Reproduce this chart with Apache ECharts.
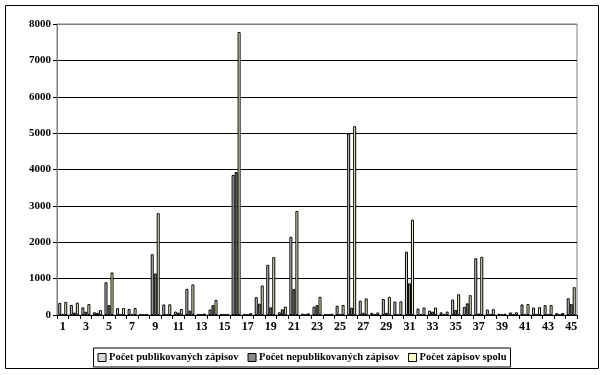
<!DOCTYPE html>
<html><head><meta charset="utf-8">
<script src="https://cdn.jsdelivr.net/npm/echarts@6/dist/echarts.min.js"></script>
<style>html,body{margin:0;padding:0;background:#fff}#c{width:604px;height:375px}</style>
</head><body><div id="c"></div>
<script>
const categories = Array.from({length:45},(_, i)=>String(i+1));
const seriesNames = ['Počet publikovaných zápisov','Počet nepublikovaných zápisov','Počet zápisov spolu'];
const published   = [330,275,210,75,900,190,165,10,1670,290,95,720,30,150,20,3850,30,490,1380,75,2150,35,230,25,255,4990,395,60,440,370,1740,175,120,73,425,220,1560,150,30,70,290,205,270,50,460];
const unpublished = [30,65,90,60,270,2,25,2,1140,5,65,120,10,270,10,3930,20,310,210,155,710,10,270,10,15,200,60,10,60,5,870,30,90,20,140,320,40,10,5,5,10,10,5,5,300];
const total       = [360,340,300,135,1170,192,190,12,2800,295,165,840,40,415,30,7780,50,810,1590,230,2860,45,500,35,275,5190,455,70,500,375,2620,205,205,93,570,545,1600,160,35,75,300,215,275,55,765];
const yTicks = [0,1000,2000,3000,4000,5000,6000,7000,8000];

const font = 'Liberation Serif';
const chart = echarts.init(document.getElementById('c'), null, {renderer:'canvas'});
const colors = ['#d6d6d6','#8a8a8a','#ffffcc'];
const vals = [published, unpublished, total];
chart.setOption({
  animation:false,
  backgroundColor:'#fff',
  graphic:[{type:'rect', shape:{x:5.5,y:5.5,width:593,height:363}, style:{fill:'none',stroke:'#000',lineWidth:1}, silent:true}],
  grid:{left:57,right:27,top:24,bottom:60,show:true,borderColor:'#808080',borderWidth:1,backgroundColor:'transparent'},
  legend:{
    bottom:8, left:'center', itemWidth:8, itemHeight:8, itemGap:9,
    borderColor:'#000', borderWidth:1, padding:[4,4], borderRadius:0,
    textStyle:{fontFamily:font,fontWeight:'bold',fontSize:10.5,color:'#000',padding:[0,0,0,-2]},
    data: seriesNames.map((n,i)=>({name:n, icon:'rect', itemStyle:{borderColor:'#000',borderWidth:1,color:colors[i]}}))
  },
  xAxis:{
    type:'category', data:categories,
    axisLine:{lineStyle:{color:'#000',width:1}},
    axisTick:{show:true,interval:0,length:4,lineStyle:{color:'#000'}},
    axisLabel:{interval:1,fontFamily:font,fontWeight:'bold',fontSize:12,color:'#000',margin:6},
    splitLine:{show:false}
  },
  yAxis:{
    type:'value', min:0, max:8000, interval:1000,
    axisLine:{show:true,lineStyle:{color:'#808080'}},
    axisTick:{show:true,length:4,lineStyle:{color:'#000'}},
    axisLabel:{fontFamily:font,fontWeight:'bold',fontSize:11,color:'#000',margin:6,
      formatter:v=>yTicks.includes(v)?String(v):''},
    splitLine:{show:true,lineStyle:{color:['#000','#000','#000','#000','#000','#000','#000','#000','#808080'],width:1}}
  },
  series: seriesNames.map((n,i)=>({
    name:n, type:'bar', data:vals[i], barWidth:3, barGap:'0%',
    itemStyle:{color:colors[i],borderColor:'#000',borderWidth:1},
  }))
});
</script></body></html>
